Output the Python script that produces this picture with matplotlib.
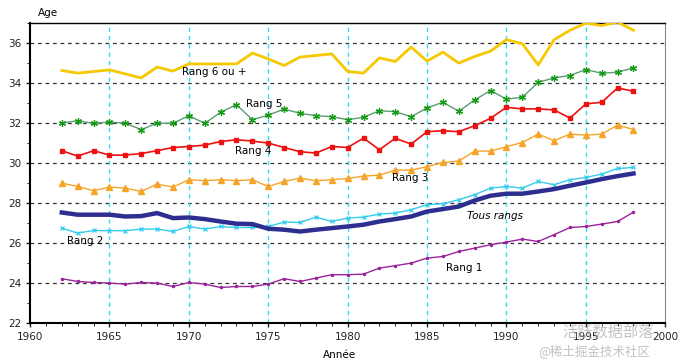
import numpy as np
import matplotlib.pyplot as plt
from matplotlib.ticker import MultipleLocator

# --- Données (âge moyen à la naissance selon le rang) ---
annees = list(range(1962, 1999))

rang6 = [34.63, 34.50, 34.58, 34.66, 34.46, 34.26, 34.80, 34.60, 34.96, 34.96,
         34.96, 34.96, 35.50, 35.21, 34.88, 35.30, 35.38, 35.46, 34.58, 34.50,
         35.26, 35.08, 35.80, 35.10, 35.55, 35.00, 35.33, 35.60, 36.17, 35.97,
         34.91, 36.17, 36.64, 37.00, 36.88, 37.05, 36.64]
rang5 = [32.00, 32.12, 31.99, 32.05, 32.00, 31.67, 32.00, 31.99, 32.37, 31.99,
         32.54, 32.92, 32.17, 32.40, 32.70, 32.49, 32.37, 32.32, 32.17, 32.29,
         32.62, 32.57, 32.32, 32.76, 33.04, 32.59, 33.16, 33.63, 33.20, 33.29,
         34.04, 34.26, 34.38, 34.68, 34.49, 34.55, 34.76]
rang4 = [30.62, 30.35, 30.62, 30.40, 30.40, 30.48, 30.62, 30.78, 30.83, 30.90,
         31.08, 31.17, 31.10, 31.00, 30.78, 30.57, 30.50, 30.83, 30.78, 31.25,
         30.67, 31.24, 30.95, 31.57, 31.62, 31.57, 31.87, 32.24, 32.79, 32.71,
         32.71, 32.66, 32.25, 32.96, 33.04, 33.76, 33.59]
rang3 = [29.00, 28.83, 28.62, 28.80, 28.75, 28.58, 28.95, 28.80, 29.17, 29.12,
         29.17, 29.12, 29.17, 28.83, 29.08, 29.25, 29.12, 29.17, 29.23, 29.35,
         29.40, 29.65, 29.65, 29.82, 30.03, 30.10, 30.60, 30.60, 30.82, 31.03,
         31.45, 31.12, 31.45, 31.40, 31.45, 31.90, 31.68]
tous = [27.53, 27.42, 27.42, 27.42, 27.33, 27.35, 27.50, 27.25, 27.28, 27.20,
        27.08, 26.97, 26.95, 26.72, 26.67, 26.58, 26.67, 26.75, 26.83, 26.92,
        27.08, 27.20, 27.33, 27.58, 27.70, 27.83, 28.13, 28.37, 28.47, 28.47,
        28.58, 28.70, 28.87, 29.03, 29.20, 29.35, 29.48]
rang2 = [26.75, 26.50, 26.63, 26.62, 26.62, 26.70, 26.70, 26.58, 26.83, 26.70,
         26.83, 26.78, 26.78, 26.83, 27.05, 27.03, 27.30, 27.08, 27.25, 27.30,
         27.45, 27.50, 27.67, 27.92, 27.97, 28.17, 28.42, 28.75, 28.83, 28.75,
         29.08, 28.92, 29.17, 29.28, 29.45, 29.73, 29.78]
rang1 = [24.22, 24.08, 24.03, 24.00, 23.95, 24.03, 24.00, 23.83, 24.03, 23.95,
         23.78, 23.83, 23.83, 23.95, 24.22, 24.08, 24.25, 24.42, 24.42, 24.45,
         24.75, 24.87, 25.00, 25.25, 25.33, 25.58, 25.75, 25.92, 26.05, 26.20,
         26.08, 26.42, 26.78, 26.83, 26.95, 27.08, 27.55]

# --- Figure ---
fig = plt.figure(figsize=(6.83, 3.61), dpi=100)
ax = fig.add_axes([0.044, 0.105, 0.930, 0.831])

# grilles
for y in range(24, 37, 2):
    ax.axhline(y, color='#333333', linestyle=(0, (3, 3)), linewidth=0.9, zorder=1)
for x in range(1965, 2000, 5):
    ax.axvline(x, color='#33DDEE', linestyle=(0, (3, 3)), linewidth=1.0, zorder=1)

# séries
ax.plot(annees, rang6, color='#F5C800', linewidth=2, zorder=3)
ax.plot(annees, rang5, color='#5A9C74', linewidth=1, marker=(6, 2, 0),
        markersize=5, markeredgecolor='#129A12', markeredgewidth=0.9, zorder=3)
ax.plot(annees, rang4, color='#EE1111', linewidth=1.2, marker='s',
        markersize=3.3, zorder=3)
ax.plot(annees, rang3, color='#F5A428', linewidth=1, marker='^',
        markersize=3.8, zorder=3)
ax.plot(annees, rang2, color='#33CCEE', linewidth=1, marker='x',
        markersize=3.5, markeredgewidth=0.9, zorder=3)
ax.plot(annees, tous, color='#2E2E90', linewidth=3.2, zorder=4)
ax.plot(annees, rang1, color='#9A229A', linewidth=1, marker='o',
        markersize=1.5, zorder=3)

# étiquettes des courbes
ax.text(1969.6, 34.55, 'Rang 6 ou +', fontsize=7.5, va='center')
ax.text(1973.6, 32.95, 'Rang 5', fontsize=7.5, va='center')
ax.text(1972.9, 30.6, 'Rang 4', fontsize=7.5, va='center')
ax.text(1982.8, 29.25, 'Rang 3', fontsize=7.5, va='center')
ax.text(1987.5, 27.37, 'Tous rangs', fontsize=7.5, va='center', style='italic')
ax.text(1962.3, 26.1, 'Rang 2', fontsize=7.5, va='center')
ax.text(1986.2, 24.75, 'Rang 1', fontsize=7.5, va='center')

# axes
ax.set_xlim(1960, 2000)
ax.set_ylim(22, 37)
ax.xaxis.set_major_locator(MultipleLocator(5))
ax.xaxis.set_minor_locator(MultipleLocator(1))
ax.yaxis.set_major_locator(MultipleLocator(2))
ax.yaxis.set_minor_locator(MultipleLocator(1))
ax.tick_params(axis='both', labelsize=7.5, colors='#222222', length=3, width=1)
ax.tick_params(which='minor', length=2)
for s in ['left', 'bottom']:
    ax.spines[s].set_linewidth(1.5)
ax.spines['top'].set_linewidth(1.0)
ax.spines['right'].set_color('#888888')

fig.text(0.056, 0.965, 'Age', fontsize=7.5, ha='left', va='center')
fig.text(0.497, 0.018, 'Année', fontsize=7.5, ha='center', va='center')

# filigrane
fig.text(0.89, 0.08, '活跃数据部落', fontsize=11, color='#999999', alpha=0.6,
         ha='center', va='center', family=['Noto Sans CJK SC', 'DejaVu Sans'])
fig.text(0.87, 0.028, '@稀土掘金技术社区', fontsize=9, color='#999999', alpha=0.6,
         ha='center', va='center', family=['Noto Sans CJK SC', 'DejaVu Sans'])

fig.savefig('out.png', dpi=100)
